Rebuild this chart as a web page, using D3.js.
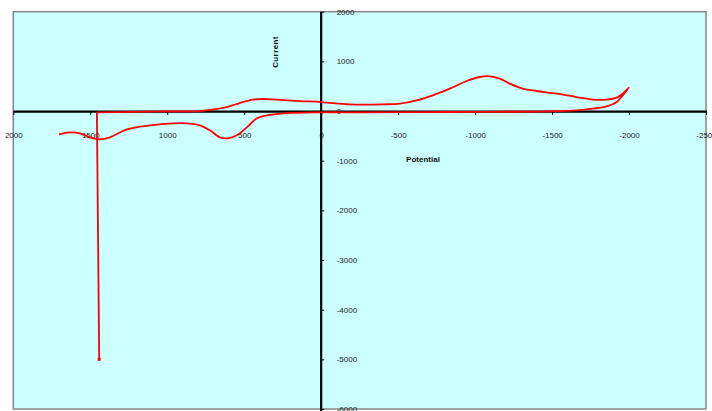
<!DOCTYPE html>
<html>
<head>
<meta charset="utf-8">
<script src="https://cdn.jsdelivr.net/npm/d3@7"></script>
<style>
  html, body { margin: 0; padding: 0; background: #ffffff; }
  svg { display: block; }
  text { font-family: "Liberation Sans", Arial, sans-serif; }
</style>
</head>
<body>
<svg id="chart" width="712" height="411"></svg>
<script>
// Cyclic voltammogram: potential (mV) vs current, in scan order
const potential = [
  1703, 1632, 1567, 1502, 1437, 1372, 1262, 1112, 963, 872, 788, 723, 658, 606, 548, 483, 417, 352, 249, -4,
  -251, -836, -1485, -1660, -1764, -1855, -1920, -1959, -1998,
  -1959, -1920, -1855, -1764, -1660, -1530, -1400, -1309, -1225, -1160, -1095, -1030, -946, -836, -725, -621, -511, -400, -186,
  -4, 139, 288, 379, 444, 529, 613, 704, 788, 1004, 1223, 1457,
  1442
];
const current = [
  -469, -429, -449, -530, -570, -530, -369, -288, -248, -248, -288, -389, -530, -550, -489, -328, -147, -87, -46, -26,
  -26, -20, -6, 14, 48, 95, 181, 316, 471,
  350, 270, 230, 230, 282, 350, 403, 451, 552, 652, 699, 685, 604, 451, 316, 215, 149, 135, 135,
  181, 201, 230, 242, 230, 161, 81, 28, 0, -6, -16, -26,
  -5000
];

const xTicks = [2000, 1500, 1000, 500, 0, -500, -1000, -1500, -2000, -2500];
const yTicks = [2000, 1000, 0, -1000, -2000, -3000, -4000, -5000, -6000];

const xTitle = "Potential";
const yTitle = "Current";

const svg = d3.select("#chart");

const plot = { left: 13.3, top: 11.7, right: 706, bottom: 409 };

const x = d3.scaleLinear().domain([2000, -2500]).range([plot.left, plot.right]);
const y = d3.scaleLinear().domain([2000, -6000]).range([plot.top, plot.bottom]);

// plain hyphen-minus labels
const fmt = d => String(d);

// plot area
svg.append("rect")
  .attr("x", plot.left).attr("y", plot.top)
  .attr("width", plot.right - plot.left).attr("height", plot.bottom - plot.top)
  .attr("fill", "#ccffff")
  .attr("stroke", "#868686")
  .attr("stroke-width", 1.5);

// horizontal axis through zero current
const xAxis = d3.axisBottom(x).tickValues(xTicks).tickSize(4).tickSizeOuter(0).tickFormat(fmt);
const gx = svg.append("g").attr("transform", `translate(0,${y(0)})`).call(xAxis);
gx.select(".domain").attr("stroke", "#000").attr("stroke-width", 2.2);
gx.selectAll(".tick line").attr("stroke", "#000").attr("stroke-width", 1);
gx.selectAll(".tick text")
  .attr("y", 24).attr("dy", "0.32em")
  .attr("fill", "#222").attr("font-size", "8px");

// vertical axis through zero potential
const yAxis = d3.axisRight(y).tickValues(yTicks).tickSize(3).tickSizeOuter(0).tickFormat(fmt);
const gy = svg.append("g").attr("transform", `translate(${x(0)},0)`).call(yAxis);
gy.select(".domain").attr("stroke", "#000").attr("stroke-width", 2.2)
  .attr("d", `M0,${plot.top}V411`);
gy.selectAll(".tick line").attr("stroke", "#000").attr("stroke-width", 1);
gy.selectAll(".tick text")
  .attr("x", 15.5).attr("dy", "0.32em")
  .attr("fill", "#222").attr("font-size", "8px");

// axis titles
svg.append("text")
  .attr("x", 423).attr("y", 159).attr("dy", "0.35em")
  .attr("text-anchor", "middle")
  .attr("font-size", "8px").attr("font-weight", "bold")
  .attr("fill", "#111")
  .text(xTitle);

svg.append("text")
  .attr("transform", "translate(275,52) rotate(-90)")
  .attr("dy", "0.35em")
  .attr("text-anchor", "middle")
  .attr("font-size", "8px").attr("font-weight", "bold")
  .attr("letter-spacing", "0.4px")
  .attr("fill", "#111")
  .text(yTitle);

// voltammogram trace: smooth sweep, then the straight drop at the end
const pts = potential.map((p, i) => [p, current[i]]);
const n = pts.length;
const smooth = d3.line()
  .x(d => x(d[0]))
  .y(d => y(d[1]))
  .curve(d3.curveCatmullRom.alpha(0.5));
const straight = d3.line()
  .x(d => x(d[0]))
  .y(d => y(d[1]));

const traceStyle = sel => sel
  .attr("fill", "none")
  .attr("stroke", "#ff0000")
  .attr("stroke-width", 1.8)
  .attr("stroke-linejoin", "round");

svg.append("path").datum(pts.slice(0, n - 1)).attr("d", smooth).call(traceStyle);
svg.append("path").datum(pts.slice(n - 2)).attr("d", straight).call(traceStyle);

// end point of the scan
const last = pts[n - 1];
svg.append("rect")
  .attr("x", x(last[0]) - 1.5).attr("y", y(last[1]) - 1.5)
  .attr("width", 3).attr("height", 3)
  .attr("fill", "#ff0000");
</script>
</body>
</html>
